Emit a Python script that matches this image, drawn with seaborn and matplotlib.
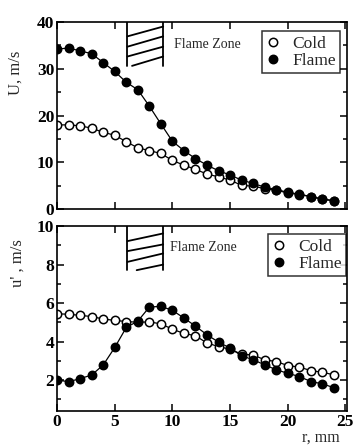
import matplotlib
matplotlib.use("Agg")
import matplotlib.pyplot as plt
from matplotlib.lines import Line2D
import seaborn as sns
import numpy as np

# Radial positions (mm)
r_mm = list(range(0, 25))

# Mean axial velocity U (m/s)
U_cold = [18.0, 18.0, 17.8, 17.3, 16.4, 15.8, 14.4, 13.1, 12.5, 11.9, 10.4,
          9.4, 8.5, 7.5, 6.9, 6.2, 5.1, 4.9, 4.4, 4.0, 3.5, 3.1, 2.7, 2.2, 1.8]
U_flame = [34.2, 34.4, 33.8, 33.2, 31.3, 29.4, 27.1, 25.5, 22.0, 18.2, 14.5,
           12.5, 10.8, 9.4, 8.2, 7.3, 6.2, 5.5, 4.7, 4.2, 3.6, 3.2, 2.7, 2.1, 1.8]

# RMS axial velocity u' (m/s)
urms_cold = [5.44, 5.42, 5.36, 5.30, 5.17, 5.10, 5.04, 5.00, 5.02, 4.92, 4.64,
             4.42, 4.30, 3.92, 3.74, 3.60, 3.34, 3.30, 3.05, 2.96, 2.75, 2.67,
             2.49, 2.40, 2.27]
urms_flame = [2.00, 1.91, 2.07, 2.26, 2.78, 3.69, 4.73, 5.06, 5.79, 5.83, 5.62,
              5.22, 4.80, 4.35, 3.97, 3.66, 3.26, 3.05, 2.79, 2.53, 2.35, 2.18,
              1.92, 1.80, 1.60]

series_labels = ["Cold", "Flame"]
x_ticks = [0, 5, 10, 15, 20, 25]
zone_text = "Flame Zone"

sns.set_theme(style="ticks")
plt.rcParams["font.family"] = ["Liberation Serif", "DejaVu Serif"]
plt.rcParams["axes.edgecolor"] = "black"
plt.rcParams["axes.linewidth"] = 1.1
plt.rcParams["xtick.color"] = "black"
plt.rcParams["ytick.color"] = "black"

fig = plt.figure(figsize=(3.59, 4.46), dpi=100)
ax_top = fig.add_axes([0.159, 0.531, 0.808, 0.420])
ax_bot = fig.add_axes([0.159, 0.079, 0.808, 0.414])

MS = 6.0
line_kw = dict(color="black", linewidth=0.9, markersize=MS, markeredgewidth=1.1,
               marker="o", markeredgecolor="black")


def draw_panel(ax, cold, flame):
    sns.lineplot(x=r_mm, y=cold, ax=ax, markerfacecolor="white", **line_kw)
    sns.lineplot(x=r_mm, y=flame, ax=ax, markerfacecolor="black", **line_kw)


draw_panel(ax_top, U_cold, U_flame)
draw_panel(ax_bot, urms_cold, urms_flame)

# Axis limits and ticks
ax_top.set_xlim(0, 25.15)
ax_bot.set_xlim(0, 25.15)
ax_top.set_ylim(0, 40)
ax_bot.set_ylim(0.4, 10)

ax_top.set_yticks([0, 10, 20, 30, 40])
ax_top.set_yticks([5, 15, 25, 35], minor=True)
ax_bot.set_yticks([2, 4, 6, 8, 10])
ax_bot.set_yticks([1, 3, 5, 7, 9], minor=True)
for ax in (ax_top, ax_bot):
    ax.set_xticks(x_ticks)
    ax.tick_params(which="both", direction="in", top=True, right=True,
                   width=1.1, labelsize=12.5, pad=2)
    ax.tick_params(which="major", length=5)
    ax.tick_params(which="minor", length=3)
    for lab in ax.get_xticklabels() + ax.get_yticklabels():
        lab.set_fontweight("bold")
    for sp in ax.spines.values():
        sp.set_visible(True)
        sp.set_linewidth(1.2)
        sp.set_color("black")
ax_top.tick_params(labelbottom=False)

ax_top.set_xlabel("")
ax_bot.set_xlabel("r, mm", fontsize=11.5)
ax_bot.xaxis.set_label_coords(0.91, -0.10)
ax_top.set_ylabel("U, m/s", fontsize=12)
ax_top.yaxis.set_label_coords(-0.115, 0.73)
ax_bot.set_ylabel("u' , m/s", fontsize=12)
ax_bot.yaxis.set_label_coords(-0.11, 0.80)


def flame_zone(ax, x0, x1, y_bottom, y_top, slants, text_xy):
    ax.plot([x0, x0], [y_bottom, y_top], color="black", lw=1.3)
    ax.plot([x1, x1], [y_bottom, y_top], color="black", lw=1.3)
    for (xa, ya, xb, yb) in slants:
        ax.plot([xa, xb], [ya, yb], color="black", lw=1.3)
    ax.text(text_xy[0], text_xy[1], zone_text, fontsize=10, va="center",
            ha="left")


flame_zone(ax_top, 6.1, 9.2, 30.5, 40,
           [(6.1, 36.9, 9.2, 39.0), (6.1, 34.7, 9.2, 36.9),
            (6.1, 32.6, 9.2, 34.7), (6.5, 30.6, 9.2, 32.6)],
           (10.1, 35.2))
flame_zone(ax_bot, 6.1, 9.2, 7.7, 10,
           [(6.1, 9.22, 9.2, 9.62), (6.1, 8.70, 9.2, 9.05),
            (6.1, 8.14, 9.2, 8.58), (6.9, 7.71, 9.2, 8.0)],
           (9.75, 8.9))

# Legends
handles = [
    Line2D([], [], linestyle="none", marker="o", markersize=MS,
           markerfacecolor="white", markeredgecolor="black", markeredgewidth=1.1),
    Line2D([], [], linestyle="none", marker="o", markersize=MS,
           markerfacecolor="black", markeredgecolor="black", markeredgewidth=1.1),
]
for ax, anchor in ((ax_top, (0.976, 0.95)), (ax_bot, (0.997, 0.955))):
    leg = ax.legend(handles, series_labels, loc="upper right",
                    bbox_to_anchor=anchor, fontsize=12.5, frameon=True,
                    fancybox=False, handlelength=0.8, handletextpad=0.7,
                    borderpad=0.25, labelspacing=0.05, borderaxespad=0)
    leg.get_frame().set_edgecolor("black")
    leg.get_frame().set_linewidth(1.1)

fig.savefig("out.png", dpi=100)
